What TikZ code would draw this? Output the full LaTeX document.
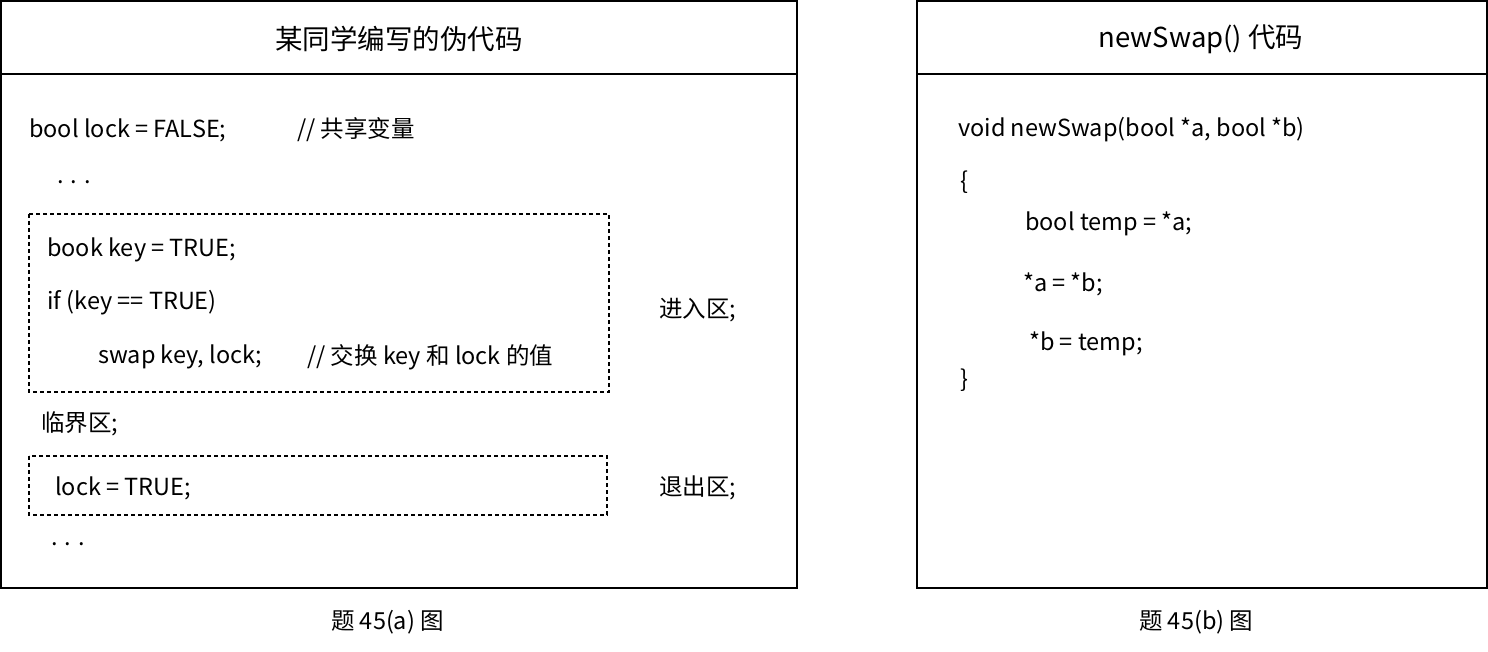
\documentclass[tikz,border=0pt]{standalone}
\usepackage{fontspec}
\setmainfont{Noto Sans CJK SC}
\begin{document}
\begin{tikzpicture}[x=1pt,y=-1pt,
  code/.style={anchor=west,inner sep=0pt,font=\fontsize{23.5}{26}\selectfont},
  title/.style={inner sep=0pt,font=\fontsize{27.5}{30}\selectfont},
  frame/.style={draw,line width=1.3pt},
  area/.style={draw,line width=1.3pt,dash pattern=on 4pt off 3pt}]

\useasboundingbox (0,0) rectangle (1488,652);

% --- left panel ---
\draw[frame] (1,1) rectangle (797,588);
\draw[frame] (1,74) -- (797,74);
\node[title] (ta) at (399,39) {某同学编写的伪代码};
\draw[area] (29,214) rectangle (609,392);
\draw[area] (29,456) rectangle (607,515);

\node[code] (l1) at (29,130) {bool lock = FALSE;};
\node[code] (c1) at (297,130) {// 共享变量};
\node[code] (d1) at (57,182) {. . .};
\node[code] (l2) at (47,250) {book key = TRUE;};
\node[code] (l3) at (47,303) {if (key == TRUE)};
\node[code] (l4) at (98,357) {swap key, lock;};
\node[code] (c4) at (307,357) {// 交换 key 和 lock 的值};
\node[code] (in) at (659,310) {进入区;};
\node[code] (cs) at (41,424) {临界区;};
\node[code] (l5) at (55,488) {lock = TRUE;};
\node[code] (out) at (659,488) {退出区;};
\node[code] (d2) at (51,544) {. . .};
\node[code] (ca) at (331,622) {题 45(a) 图};

% --- right panel ---
\draw[frame] (917,1) rectangle (1487,588);
\draw[frame] (917,74) -- (1487,74);
\node[title] (tb) at (1201,39) {newSwap() 代码};
\node[code] (r1) at (958,130) {void newSwap(bool *a, bool *b)};
\node[code] (r2) at (960,182) {\{};
\node[code] (r3) at (1025,224) {bool temp = *a;};
\node[code] (r4) at (1023,284) {*a = *b;};
\node[code] (r5) at (1029,344) {*b = temp;};
\node[code] (r6) at (960,380) {\}};
\node[code] (cb) at (1139,622) {题 45(b) 图};

\end{tikzpicture}
\end{document}
